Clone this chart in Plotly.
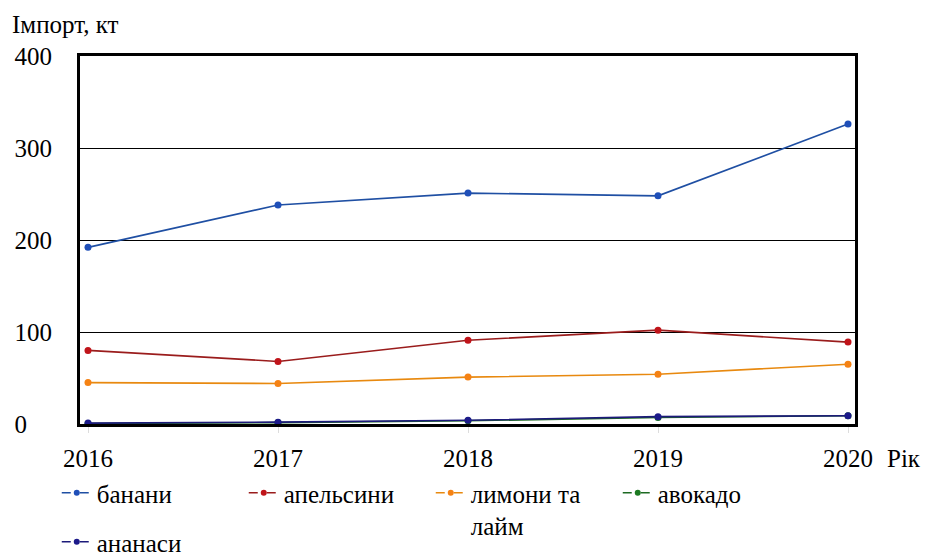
import plotly.graph_objects as go

years = [2016, 2017, 2018, 2019, 2020]
bananas = [192, 238, 251, 248, 326]
oranges = [80, 68, 91, 102, 89]
lemons = [45, 44, 51, 54, 65]
avocado = [0.5, 1.5, 3.5, 7, 9]
pineapples = [1, 2, 4, 8, 9]

names = ["банани", "апельсини", "лимони та<br>лайм", "авокадо", "ананаси"]
series = [bananas, oranges, lemons, avocado, pineapples]
legend_ids = ["legend", "legend", "legend", "legend", "legend2"]
line_colors = ["#1f4fa3", "#9a1c1c", "#e8890f", "#1d6a22", "#1c1a7a"]
marker_colors = ["#1f4fb8", "#c0141a", "#f58214", "#1d7a22", "#1c1a8a"]

y_ticks = [0, 100, 200, 300, 400]
y_ticktext = ["0\u2007\u2007", "100", "200", "300", "400"]

FONT = "serif"


def tfont(size=25):
    return dict(family=FONT, size=size, color="black")


fig = go.Figure()
for name, vals, lc, mc in zip(names, series, line_colors, marker_colors):
    fig.add_trace(go.Scatter(
        x=years, y=vals, mode="lines+markers", name=name, showlegend=False,
        line=dict(color=lc, width=1.6),
        marker=dict(color=mc, size=7),
    ))
for name, lg, lc, mc in zip(names, legend_ids, line_colors, marker_colors):
    fig.add_trace(go.Scatter(
        x=[None], y=[None], mode="lines+markers", name=name, legend=lg,
        line=dict(color=lc, width=1.5, dash="dash"),
        marker=dict(color=mc, size=6),
    ))

fig.update_layout(
    width=925, height=554,
    margin=dict(l=80, r=70, t=56, b=130, autoexpand=False),
    paper_bgcolor="white", plot_bgcolor="white",
    xaxis=dict(
        range=[2016 - 8 / 190, 2020 + 7 / 190],
        tickvals=years, ticktext=[str(y) for y in years],
        showgrid=False, zeroline=False,
        showline=True, mirror=True, linewidth=3, linecolor="black",
        ticks="outside", ticklen=6, tickcolor="#dddddd", tickwidth=1,
        tickfont=tfont(25),
        ticklabelstandoff=4,
    ),
    yaxis=dict(
        range=[0, 400],
        tickvals=y_ticks, ticktext=y_ticktext,
        showgrid=True, gridcolor="black", gridwidth=1.4,
        zeroline=False,
        showline=True, mirror=True, linewidth=3, linecolor="black",
        tickfont=tfont(25),
        ticklabelstandoff=20,
    ),
    legend=dict(
        orientation="h", x=-0.03, xanchor="left", y=-0.125, yanchor="top",
        font=tfont(25),
        itemwidth=30, entrywidth=142, valign="top", bgcolor="rgba(0,0,0,0)",
    ),
    legend2=dict(
        orientation="h", x=-0.03, xanchor="left", y=-0.125 - 49 / 368, yanchor="top",
        font=tfont(25),
        itemwidth=30, valign="top", bgcolor="rgba(0,0,0,0)",
    ),
)
fig.add_annotation(text="Імпорт, кт", xref="paper", yref="paper",
                   x=-70 / 775, y=1 + 32 / 368, xanchor="left", yanchor="middle",
                   showarrow=False, font=tfont(25))
fig.add_annotation(text="Рік", xref="paper", yref="paper",
                   x=1 + 30 / 775, y=-34 / 368, xanchor="left", yanchor="middle",
                   showarrow=False, font=tfont(25))

fig.write_html("out.html")
